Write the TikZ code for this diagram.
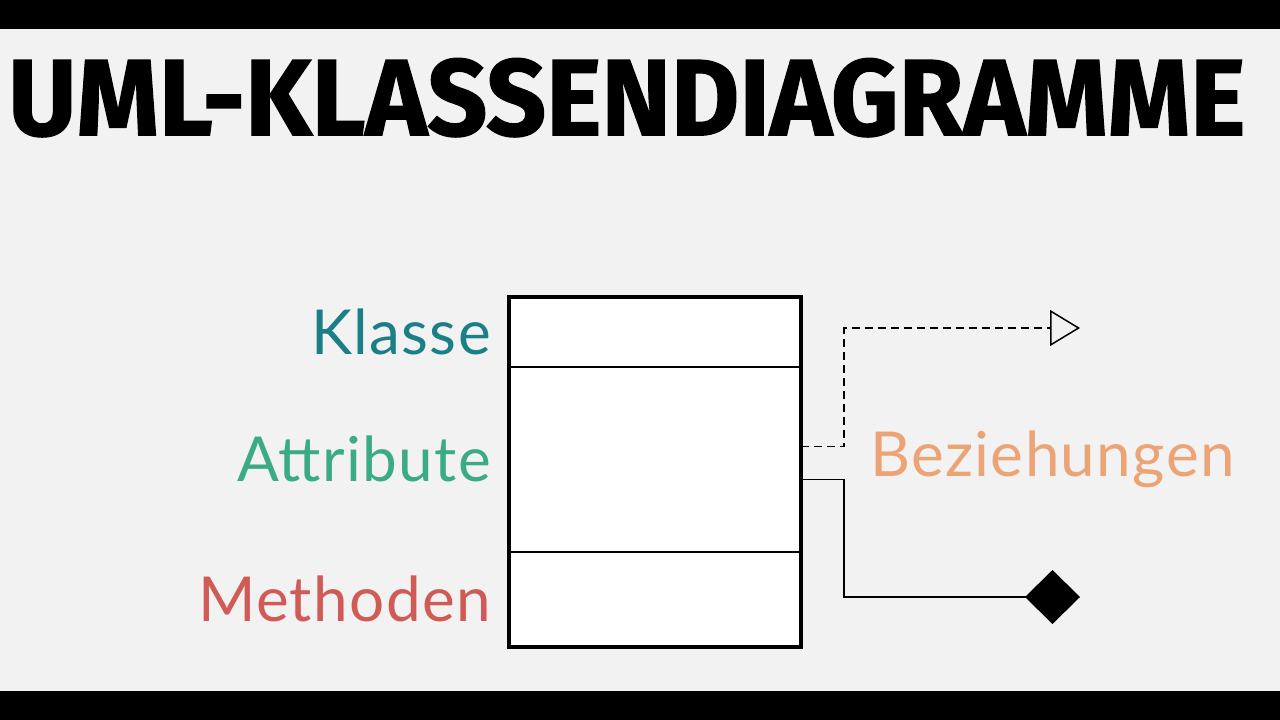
\documentclass[tikz,border=0pt]{standalone}
\usepackage{fontspec}
\setmainfont{Lato}[LetterSpace=2.2]
\newfontfamily\titlefont{Fira Sans}[FakeBold=1.2]
\usepackage{tikz}
\usetikzlibrary{positioning, arrows.meta}
\definecolor{bggray}{HTML}{F2F2F2}
\definecolor{klassecol}{HTML}{1B7F87}
\definecolor{attrcol}{HTML}{3BAA86}
\definecolor{methcol}{HTML}{D05A55}
\definecolor{bezcol}{HTML}{EBA476}
\tikzstyle{part} = [rectangle, draw=black, line width=1.5pt, fill=white, minimum width=292pt, inner sep=0pt, outer sep=0pt]
\tikzstyle{lbl} = [font=\fontsize{62}{62}\selectfont, text height=44pt, text depth=0pt, inner sep=0pt]
\tikzstyle{dep} = [line width=1.5pt, dash pattern=on 8pt off 5pt, -{Triangle[open, length=30pt, width=36pt, line width=1.5pt]}]
\tikzstyle{aggr} = [line width=1.5pt, -{Diamond[length=55pt, width=54pt]}]

\begin{document}
\begin{tikzpicture}[x=1pt, y=-1pt]
\useasboundingbox (0,0) rectangle (1280,720);
\fill[bggray] (0,0) rectangle (1280,720);
\fill[black] (0,0) rectangle (1280,29);
\fill[black] (0,691) rectangle (1280,720);

\node (title) [anchor=north west, inner sep=0pt] at (8,58)
	{\resizebox{1237pt}{77pt}{\titlefont\bfseries UML-KLASSENDIAGRAMME}};

\node (kbox) [part, anchor=north west, minimum height=70pt] at (509,297) {};
\node (abox) [part, below=0pt of kbox, minimum height=185pt] {};
\node (mbox) [part, below=0pt of abox, minimum height=95pt] {};
\draw [line width=3.5pt] (kbox.north west) rectangle (mbox.south east);

\node (klbl) [lbl, klassecol, left=18pt of kbox] {Klasse};
\node (albl) [lbl, attrcol, left=18pt of abox] {Attribute};
\node (mlbl) [lbl, methcol, left=18pt of mbox] {Methoden};
\node (blbl) [lbl, bezcol, anchor=west] at (870,454) {Beziehungen};

\coordinate (gen) at (1080,328);
\coordinate (agg) at (1080,597);

\draw [dep] ([yshift=13pt]abox.east) -- ++(43,0) |- (gen);
\draw [aggr] ([yshift=-20pt]abox.east) -- ++(43,0) |- (agg);

\end{tikzpicture}
\end{document}
